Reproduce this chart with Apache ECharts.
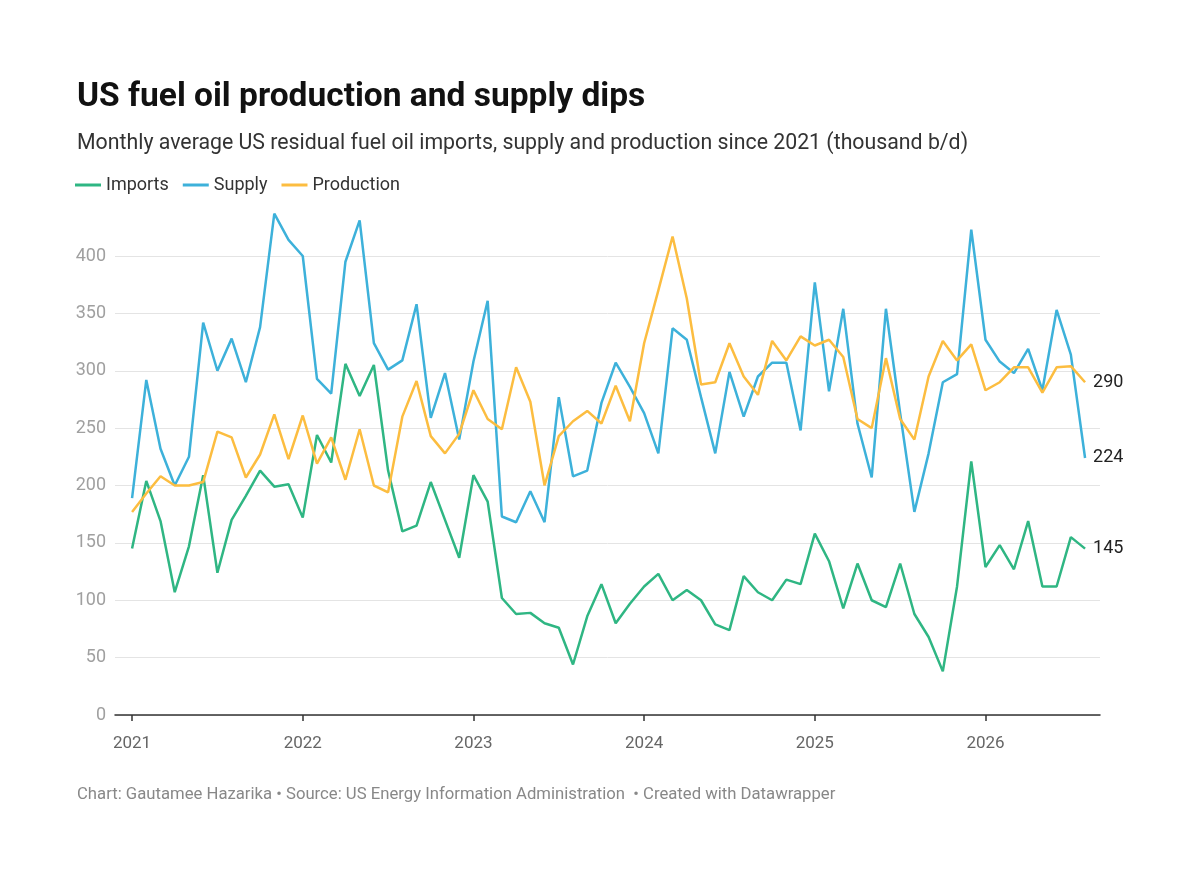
<!DOCTYPE html>
<html lang="en">

<head>
    <meta charset="UTF-8">
    <title>US fuel oil production and supply dips</title>
    <script src="https://cdn.jsdelivr.net/npm/echarts@6/dist/echarts.min.js"></script>
    <style>
        body { margin: 0; background: #fff; }
    </style>
</head>

<body>
    <div id="main" style="width: 1200px; height: 880px;"></div>
    <script>
        // monthly values, Jan 2021 .. Aug 2026 (thousand b/d)
        var years = ['2021', '2022', '2023', '2024', '2025', '2026'];
        var imports = [145, 204, 169, 107, 147, 209, 124, 170, 191, 213, 199, 201,
            172, 244, 220, 306, 278, 305, 213, 160, 165, 203, 170, 137,
            209, 186, 102, 88, 89, 80, 76, 44, 86, 114, 80, 97,
            112, 123, 100, 109, 100, 79, 74, 121, 107, 100, 118, 114,
            158, 134, 93, 132, 100, 94, 132, 88, 68, 38, 112, 221,
            129, 148, 127, 169, 112, 112, 155, 145];
        var supply = [189, 292, 232, 200, 225, 342, 300, 328, 290, 338, 437, 414,
            400, 293, 280, 395, 431, 324, 301, 309, 358, 259, 298, 240,
            308, 361, 173, 168, 195, 168, 277, 208, 213, 272, 307, 286,
            263, 228, 337, 327, 277, 228, 299, 260, 295, 307, 307, 248,
            377, 282, 354, 254, 207, 354, 263, 177, 228, 290, 297, 423,
            327, 308, 298, 319, 283, 353, 314, 224];
        var production = [177, 193, 208, 200, 200, 203, 247, 242, 207, 227, 262, 223,
            261, 219, 242, 205, 249, 200, 194, 260, 291, 243, 228, 245,
            283, 258, 249, 303, 273, 200, 243, 256, 265, 254, 287, 256,
            324, 370, 417, 363, 288, 290, 324, 295, 279, 326, 309, 330,
            322, 327, 312, 258, 250, 311, 258, 240, 295, 326, 309, 323,
            283, 290, 303, 303, 281, 303, 304, 290];

        var FONT = 'Roboto';

        function pairs(arr) {
            return arr.map(function (v, i) { return [i, v]; });
        }

        function lineSeries(name, data, color) {
            return {
                name: name,
                type: 'line',
                data: pairs(data),
                symbol: 'none',
                clip: false,
                lineStyle: { width: 2.5, color: color },
                itemStyle: { color: color },
                endLabel: {
                    show: true,
                    distance: 8,
                    fontFamily: FONT,
                    fontSize: 18,
                    color: '#222',
                    formatter: function (p) { return p.value[1]; }
                },
                emphasis: { disabled: true }
            };
        }

        var chartDom = document.getElementById('main');
        var myChart = echarts.init(chartDom);
        var option = {
            animation: false,
            title: [{
                text: 'US fuel oil production and supply dips',
                left: 72,
                top: 76,
                textStyle: { fontFamily: FONT, fontSize: 33.5, fontWeight: 'bold', color: '#111' }
            }, {
                text: 'Monthly average US residual fuel oil imports, supply and production since 2021 (thousand b/d)',
                left: 72,
                top: 128,
                textStyle: { fontFamily: FONT, fontSize: 21.3, fontWeight: 'normal', color: '#333' }
            }, {
                text: 'Chart: Gautamee Hazarika • Source: US Energy Information Administration  • Created with Datawrapper',
                left: 72,
                top: 781,
                textStyle: { fontFamily: FONT, fontSize: 16.7, fontWeight: 'normal', color: '#888' }
            }],
            legend: {
                left: 70,
                top: 171,
                icon: 'rect',
                itemWidth: 26,
                itemHeight: 3,
                itemGap: 14,
                selectedMode: false,
                textStyle: { fontFamily: FONT, fontSize: 18, color: '#333' },
                data: ['Imports', 'Supply', 'Production']
            },
            grid: { left: 115, right: 100, top: 256, bottom: 165 },
            xAxis: {
                type: 'value',
                min: -1.2,
                max: 68.05,
                splitLine: { show: false },
                axisLine: { lineStyle: { color: '#333', width: 1.5 } },
                axisTick: {
                    show: true,
                    length: 6,
                    customValues: [0, 12, 24, 36, 48, 60],
                    lineStyle: { color: '#333', width: 1.5 }
                },
                axisLabel: {
                    customValues: [0, 12, 24, 36, 48, 60],
                    formatter: function (v) { return years[Math.round(v / 12)]; },
                    fontFamily: FONT,
                    fontSize: 17,
                    color: '#666',
                    margin: 20
                }
            },
            yAxis: {
                type: 'value',
                min: 0,
                max: 400,
                interval: 50,
                axisLine: { show: false },
                axisTick: { show: false },
                splitLine: { lineStyle: { color: '#e4e4e4', width: 1 } },
                axisLabel: { fontFamily: FONT, fontSize: 18, color: '#a0a0a0', margin: 9 }
            },
            series: [
                lineSeries('Imports', imports, '#2fb683'),
                lineSeries('Supply', supply, '#3db1da'),
                lineSeries('Production', production, '#fcbd40')
            ]
        };

        option && myChart.setOption(option);
        window.addEventListener('resize', function () {
            myChart.resize();
        });
    </script>
</body>

</html>
